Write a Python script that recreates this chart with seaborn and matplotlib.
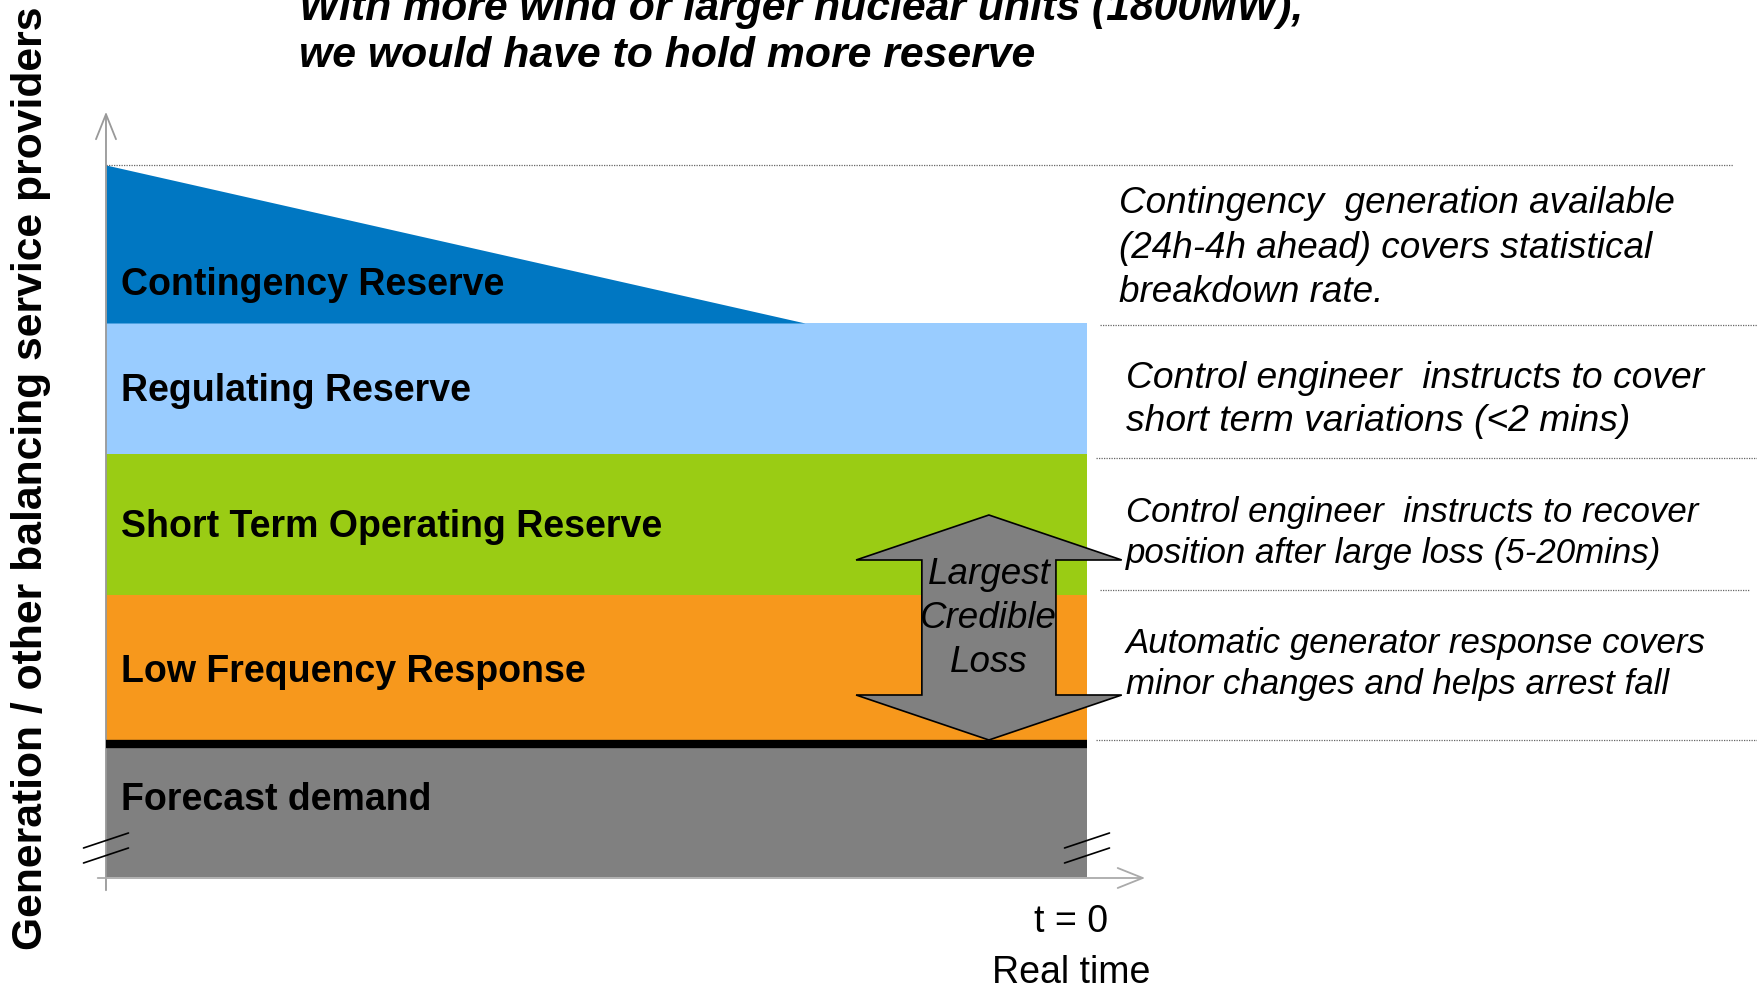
import numpy as np
import matplotlib
matplotlib.use("Agg")
import matplotlib.pyplot as plt
import matplotlib.patches as mpatches
import seaborn as sns

# stacked reserve levels (arbitrary GW-like units), bottom -> top
level_names = ["Forecast demand", "Low Frequency Response",
               "Short Term Operating Reserve", "Regulating Reserve",
               "Contingency Reserve"]
level_bounds = [0.0, 1.33, 2.82, 4.23, 5.54, 7.12]
level_colors = ["#808080", "#F7981C", "#9ACC14", "#99CCFF", "#0077C2"]
label_y = [0.77, 2.05, 3.50, 4.86, 5.92]

# time axis (hours before real time)
t_start = -24.0
t_now = 0.0
t_contingency_end = -6.9      # where contingency wedge meets regulating reserve

# largest credible loss arrow
loss_t = -2.4
largest_loss = 2.25

# right-hand notes
notes = [
    "Contingency  generation available\n(24h-4h ahead) covers statistical\nbreakdown rate.",
    "Control engineer  instructs to cover\nshort term variations (<2 mins)",
    "Control engineer  instructs to recover\nposition after large loss (5-20mins)",
    "Automatic generator response covers\nminor changes and helps arrest fall",
]
note_y = [6.29, 4.77, 3.44, 2.13]
note_x = [0.78, 0.95, 0.95, 0.95]
note_size = [26.6, 26.8, 25.1, 25.1]
note_spacing = [1.36, 1.33, 1.33, 1.33]
sep_y = [7.12, 5.52, 4.19, 2.87, 1.37]

title_lines = ["With more wind or larger nuclear units (1800MW),",
               "we would have to hold more reserve"]
y_label = "Generation / other balancing service providers"

sns.set_theme(style="white")
plt.rcParams['font.family'] = ['Liberation Sans', 'DejaVu Sans']
plt.rcParams['text.color'] = 'black'

fig = plt.figure(figsize=(17.57, 9.89), dpi=100)
ax = fig.add_axes([0, 0, 1, 1])
# 1 hour = 40.875 px, 1 unit = 100 px
ax.set_xlim(-26.593, 16.391)
ax.set_ylim(-1.12, 8.77)
ax.axis('off')

# bands
for i in range(4):
    ax.fill_between([t_start, t_now], level_bounds[i], level_bounds[i + 1],
                    color=level_colors[i], lw=0, zorder=1)
ax.fill_between([t_start, t_contingency_end], level_bounds[4],
                [level_bounds[5], level_bounds[4]],
                color=level_colors[4], lw=0, zorder=1)

# demand line
ax.plot([t_start, t_now], [level_bounds[1]] * 2, color='black', lw=6,
        solid_capstyle='butt', zorder=3)

for name, y in zip(level_names, label_y):
    ax.text(t_start + 0.37, y, name, fontsize=27, fontweight='bold',
            va='center', ha='left', zorder=5)

# separators
sep_x0 = [t_start, 0.32, 0.22, 0.32, 0.22]
sep_x1 = [15.8, 16.4, 16.4, 16.2, 16.4]
for y, x0, x1 in zip(sep_y, sep_x0, sep_x1):
    ax.plot([x0, x1], [y, y], color='#666666', lw=0.9,
            linestyle=(0, (1, 1)), zorder=2)

for txt, x, y, s, ls in zip(notes, note_x, note_y, note_size, note_spacing):
    ax.text(x, y, txt, fontsize=s, style='italic', va='center', ha='left',
            linespacing=ls)

# largest credible loss double arrow
base = level_bounds[1] + 0.04
top = base + largest_loss
head_w, shaft_w, head_l = 3.25, 1.64, 0.45
verts = [
    (loss_t, top),
    (loss_t + head_w, top - head_l),
    (loss_t + shaft_w, top - head_l),
    (loss_t + shaft_w, base + head_l),
    (loss_t + head_w, base + head_l),
    (loss_t, base),
    (loss_t - head_w, base + head_l),
    (loss_t - shaft_w, base + head_l),
    (loss_t - shaft_w, top - head_l),
    (loss_t - head_w, top - head_l),
]
ax.add_patch(mpatches.Polygon(verts, closed=True, facecolor='#808080',
                              edgecolor='black', lw=1.2, zorder=4))
ax.text(loss_t, 2.585, "Largest\nCredible\nLoss", fontsize=26.5, style='italic',
        ha='center', va='center', linespacing=1.33, zorder=5)

# axes arrows
ax.annotate("", xy=(t_start, 7.68), xytext=(t_start, -0.16),
            arrowprops=dict(arrowstyle="->,head_length=1.5,head_width=0.6",
                            color='#999999', lw=1.3), zorder=2)
ax.annotate("", xy=(1.49, -0.01), xytext=(-24.27, -0.01),
            arrowprops=dict(arrowstyle="->,head_length=1.5,head_width=0.6",
                            color='#aaaaaa', lw=1.3), zorder=2)

# axis break marks
for dx in [t_start, t_now]:
    for y0 in [0.14, 0.29]:
        ax.plot([dx - 0.55, dx + 0.55], [y0, y0 + 0.15], color='black',
                lw=1.2, zorder=3)

ax.text(-0.39, -0.45, "t = 0", fontsize=27, ha='center', va='center')
ax.text(-0.39, -0.96, "Real time", fontsize=27, ha='center', va='center')

ax.text(-25.83, 3.99, y_label, fontsize=30.7, fontweight='bold', rotation=90,
        ha='center', va='center')

ax.text(-19.28, 8.57, title_lines[0], fontsize=30.8, fontweight='bold',
        style='italic', ha='left', va='baseline')
ax.text(-19.28, 8.10, title_lines[1], fontsize=30.8, fontweight='bold',
        style='italic', ha='left', va='baseline')

fig.savefig("out.png", dpi=100)
